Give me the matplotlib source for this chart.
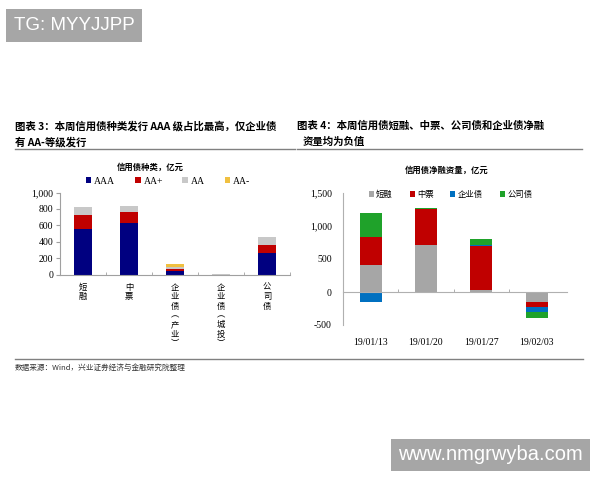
import matplotlib
matplotlib.use("Agg")
import matplotlib.pyplot as plt
import numpy as np

plt.rcParams['font.family'] = ['Noto Sans CJK SC', 'DejaVu Sans']

# left chart: issuance by type and rating (亿元)
types = ["短\n融", "中\n票", "企\n业\n债\n︵\n产\n业\n︶", "企\n业\n债\n︵\n城\n投\n︶", "公\n司\n债"]
ratings = ["AAA", "AA+", "AA", "AA-"]
aaa = [550, 630, 40, 0, 265]
aa_plus = [180, 135, 32, 0, 100]
aa = [95, 70, 20, 6, 95]
aa_minus = [0, 0, 42, 0, 0]
rating_colors = ["#000080", "#c00000", "#c8c8c8", "#f0c040"]

# right chart: net financing by week (亿元)
weeks = ["19/01/13", "19/01/20", "19/01/27", "19/02/03"]
kinds = ["短融", "中票", "企业债", "公司债"]
dr = [408, 710, 30, -145]
mtn = [420, 548, 667, -77]
ent = [-148, 0, 20, -76]
corp = [364, 20, 85, -100]
kind_colors = ["#a6a6a6", "#c00000", "#0070c0", "#1fa22a"]

serif = ['Liberation Serif', 'Noto Sans CJK SC']

fig = plt.figure(figsize=(6, 4.8), dpi=100)

# watermarks
fig.text(14 / 600, 1 - 25.5 / 480, "TG: MYYJJPP", color="white", fontsize=13.5,
         family="Liberation Sans", va="center", ha="left",
         bbox=dict(facecolor="#a6a6a6", edgecolor="none", pad=5.5))
fig.text(398 / 600, 1 - 455 / 480, "www.nmgrwyba.com", color="white", fontsize=14.5,
         family="Liberation Sans", va="center", ha="left",
         bbox=dict(facecolor="#a6a6a6", edgecolor="none", pad=5))

# titles
fig.text(15 / 600, 1 - 126 / 480, "图表 3：本周信用债种类发行 AAA 级占比最高，仅企业债",
         fontsize=7.5, fontweight="bold", va="center")
fig.text(15 / 600, 1 - 142 / 480, "有 AA-等级发行", fontsize=7.5, fontweight="bold", va="center")
fig.text(297 / 600, 1 - 126 / 480, "图表 4：本周信用债短融、中票、公司债和企业债净融",
         fontsize=7.5, fontweight="bold", va="center")
fig.text(303 / 600, 1 - 142 / 480, "资量均为负值", fontsize=7.5, fontweight="bold", va="center")
fig.add_artist(plt.Line2D([15 / 600, 295 / 600], [1 - 148.5 / 480] * 2, color="#808080", lw=1))
fig.add_artist(plt.Line2D([297 / 600, 582 / 600], [1 - 148.5 / 480] * 2, color="#808080", lw=1))

# footer
fig.add_artist(plt.Line2D([15 / 600, 583 / 600], [1 - 358.5 / 480] * 2, color="#808080", lw=1))
fig.text(15 / 600, 1 - 368 / 480, "数据来源：Wind，兴业证券经济与金融研究院整理",
         fontsize=5.5, va="center", color="#333333")

# ---- left chart ----
ax1 = fig.add_axes([60 / 600, 1 - 274.5 / 480, 230 / 600, 82 / 480])
x1 = np.arange(len(types))
bottom = np.zeros(len(types))
for vals, name, c in zip([aaa, aa_plus, aa, aa_minus], ratings, rating_colors):
    ax1.bar(x1, vals, 0.4, bottom=bottom, color=c, label=name)
    bottom += np.array(vals)
ax1.set_xlim(-0.5, 4.5)
ax1.set_ylim(0, 1000)
ax1.set_yticks([0, 200, 400, 600, 800, 1000])
ax1.set_yticklabels(["0", "200", "400", "600", "800", "1,000"], family=serif, fontsize=7)
ax1.set_xticks(x1)
ax1.set_xticklabels(types, fontsize=6, linespacing=1.05, va="top")
ax1.tick_params(axis="x", length=0, pad=6)
ax1.set_xticks(np.arange(-0.5, 5, 1), minor=True)
ax1.tick_params(axis="x", which="minor", direction="in", length=2, color="#a0a0a0")
ax1.tick_params(axis="y", length=3, color="#a0a0a0", pad=2)
for s in ["top", "right"]:
    ax1.spines[s].set_visible(False)
for s in ["left", "bottom"]:
    ax1.spines[s].set_color("#a0a0a0")
    ax1.spines[s].set_linewidth(0.8)
ax1.legend(loc="center", bbox_to_anchor=(0.47, 1.14), ncol=4, frameon=False,
           prop={'family': serif, 'size': 7}, handlelength=0.6, handleheight=0.6,
           handletextpad=0.3, columnspacing=2.0, borderaxespad=0)
fig.text(150 / 600, 1 - 167 / 480, "信用债种类，亿元", fontsize=6, fontweight="bold",
         ha="center", va="center")

# ---- right chart ----
ax2 = fig.add_axes([343 / 600, 1 - 325 / 480, 224 / 600, 132 / 480])
x2 = np.arange(len(weeks))
pos = np.zeros(len(weeks))
neg = np.zeros(len(weeks))
for vals, name, c in zip([dr, mtn, ent, corp], kinds, kind_colors):
    v = np.array(vals, dtype=float)
    b = np.where(v >= 0, pos, neg)
    ax2.bar(x2, v, 0.4, bottom=b, color=c, label=name)
    pos += np.where(v >= 0, v, 0)
    neg += np.where(v < 0, v, 0)
ax2.set_xlim(-0.5, 3.55)
ax2.set_ylim(-500, 1500)
ax2.set_yticks([-500, 0, 500, 1000, 1500])
ax2.set_yticklabels(["-500", "0", "500", "1,000", "1,500"], family=serif, fontsize=7)
ax2.tick_params(axis="y", length=0, pad=8)
ax2.spines["bottom"].set_position(("data", 0))
ax2.set_xticks(x2)
ax2.set_xticklabels(weeks, family=serif, fontsize=7)
ax2.tick_params(axis="x", length=0, pad=33)
ax2.set_xticks(np.arange(0.5, 3.5, 1), minor=True)
ax2.tick_params(axis="x", which="minor", direction="in", length=2, color="#a0a0a0")
for s in ["top", "right"]:
    ax2.spines[s].set_visible(False)
for s in ["left", "bottom"]:
    ax2.spines[s].set_color("#b0b0b0")
    ax2.spines[s].set_linewidth(0.8)
ax2.legend(loc="center", bbox_to_anchor=(0.48, 0.99), ncol=4, frameon=False,
           prop={'size': 6}, handlelength=0.6, handleheight=0.6,
           handletextpad=0.3, columnspacing=2.0, borderaxespad=0)
fig.text(447 / 600, 1 - 170 / 480, "信用债净融资量，亿元", fontsize=6, fontweight="bold",
         ha="center", va="center")

fig.savefig("out.png", dpi=100)
